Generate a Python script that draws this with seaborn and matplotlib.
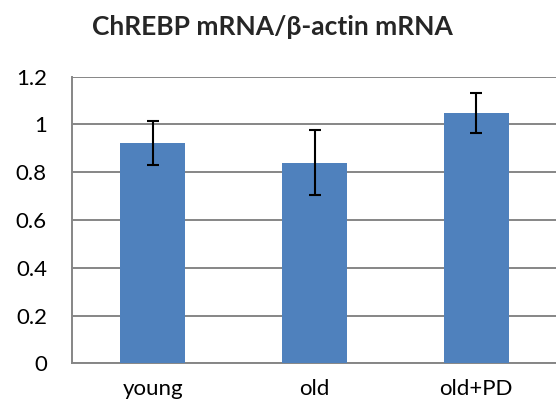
import matplotlib
matplotlib.use("Agg")
import matplotlib.pyplot as plt
import pandas as pd
import seaborn as sns

groups = ["young", "old", "old+PD"]
means = [0.922, 0.840, 1.047]
errors = [0.091, 0.135, 0.083]

BAR_COLOR = "#4F81BD"
GRID_COLOR = "#868686"


def main() -> None:
    sns.set_theme(style="white")
    plt.rcParams["font.family"] = ["Lato", "DejaVu Sans"]

    df = pd.DataFrame({"group": groups, "value": means, "err": errors})

    fig = plt.figure(figsize=(5.56, 4.12), dpi=100)
    ax = fig.add_axes([72 / 556, (412 - 363.3) / 412, (557 - 72) / 556, (363.3 - 76.7) / 412])

    sns.barplot(data=df, x="group", y="value", color=BAR_COLOR, width=0.4,
                errorbar=None, saturation=1, linewidth=0, ax=ax, zorder=3)
    ax.errorbar(range(len(groups)), df["value"], yerr=df["err"], fmt="none",
                ecolor="black", elinewidth=1.5, capsize=4.5, capthick=1.5, zorder=4)

    ax.set_ylim(0, 1.2)
    ax.set_xlim(-0.5, 2.5)
    ax.set_yticks([0, 0.2, 0.4, 0.6, 0.8, 1.0, 1.2])
    ax.set_yticklabels(["0", "0.2", "0.4", "0.6", "0.8", "1", "1.2"], fontsize=16)
    ax.yaxis.grid(True, color=GRID_COLOR, linewidth=1.4, zorder=0)
    ax.tick_params(axis="y", length=6, width=1.4, color=GRID_COLOR, pad=12, labelcolor="black")

    ax.set_xticks([-0.5, 0.5, 1.5, 2.5])
    ax.set_xticklabels([])
    ax.set_xticks([0, 1, 2], minor=True)
    ax.set_xticklabels(groups, minor=True, fontsize=16)
    ax.tick_params(axis="x", which="major", length=7, width=1.4, color=GRID_COLOR, direction="out")
    ax.tick_params(axis="x", which="minor", length=0, pad=11, labelcolor="black")

    for side in ["top", "right"]:
        ax.spines[side].set_visible(False)
    for side in ["left", "bottom"]:
        ax.spines[side].set_color(GRID_COLOR)
        ax.spines[side].set_linewidth(1.4)

    ax.set_xlabel("")
    ax.set_ylabel("")

    fig.text(0.49, 0.935, "ChREBP mRNA/β-actin mRNA", ha="center", va="center",
             fontsize=19, fontweight="bold")

    fig.savefig("out.png", dpi=100)
    plt.close(fig)


if __name__ == "__main__":
    main()
